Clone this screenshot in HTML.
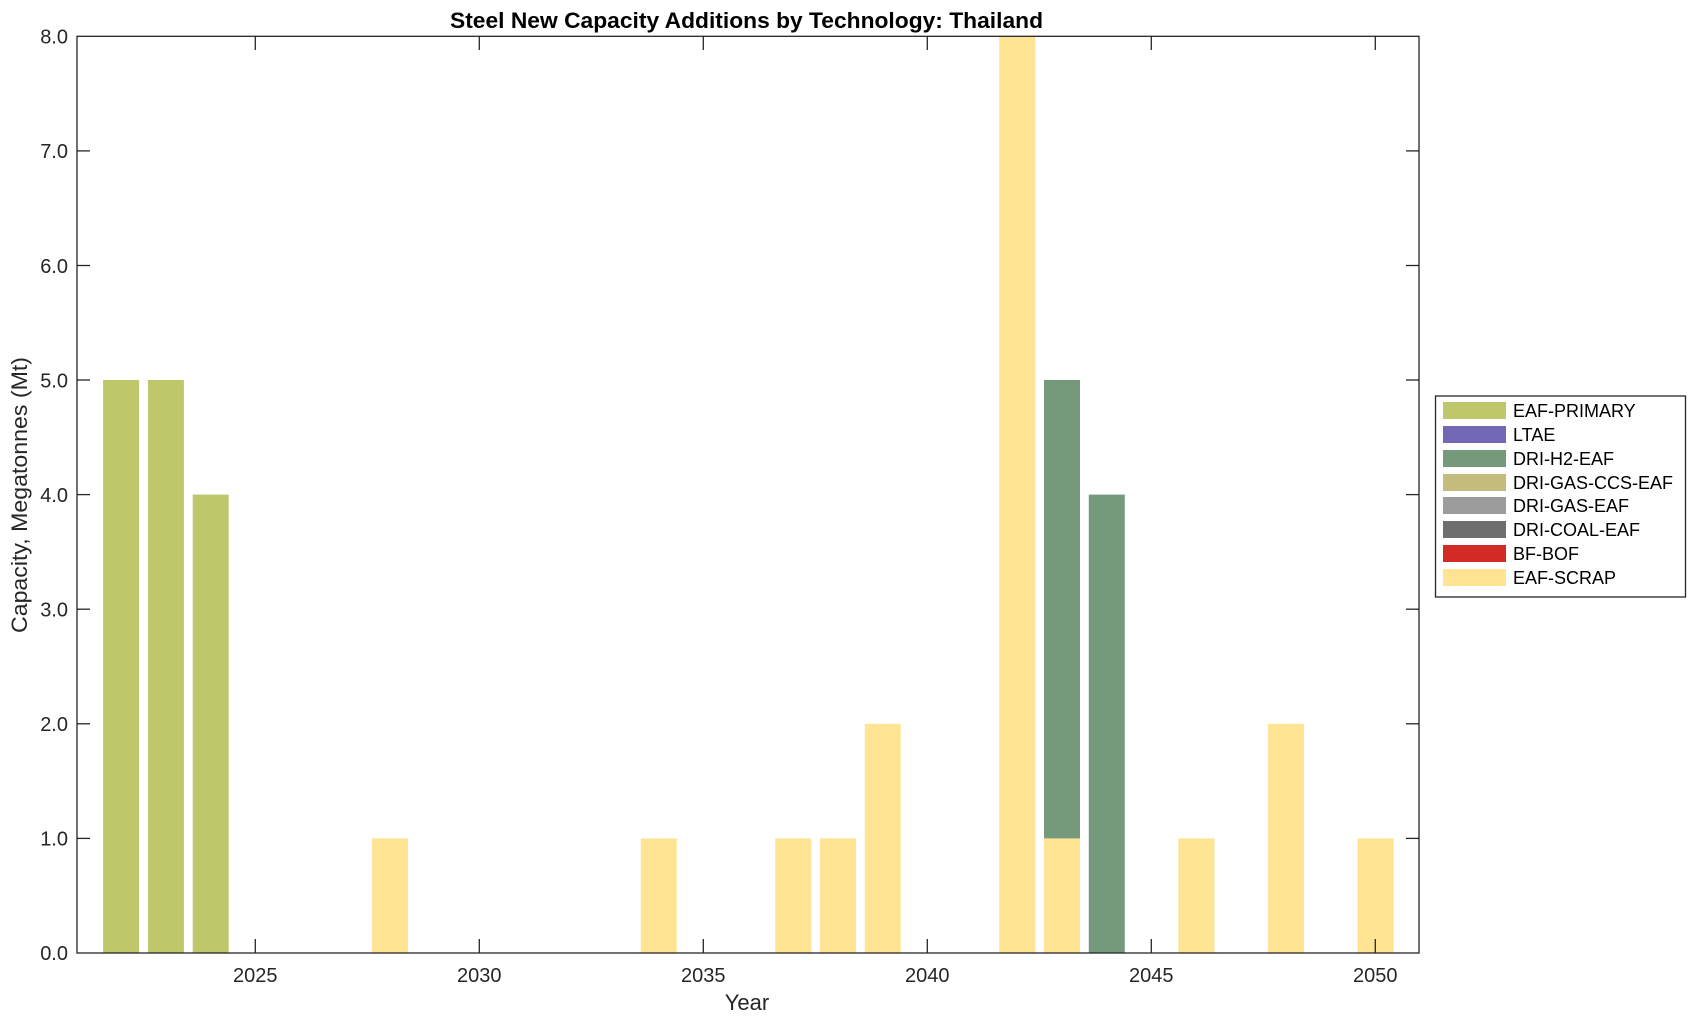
<!DOCTYPE html>
<html><head><meta charset="utf-8"><style>
html,body{margin:0;padding:0;background:#fff;}
svg text{font-family:"Liberation Sans",Arial,sans-serif;fill:#262626;}
</style></head><body>
<svg width="1696" height="1021" viewBox="0 0 1696 1021" xmlns="http://www.w3.org/2000/svg">
<rect width="1696" height="1021" fill="#fff"/>
<text x="746.5" y="28" text-anchor="middle" font-size="22" font-weight="bold" textLength="593" lengthAdjust="spacingAndGlyphs" style="fill:#000">Steel New Capacity Additions by Technology: Thailand</text>
<g id="bars">
<rect x="103.1" y="380" width="36" height="573" fill="#bec86a"/>
<rect x="147.9" y="380" width="36" height="573" fill="#bec86a"/>
<rect x="192.7" y="494.6" width="36" height="458.4" fill="#bec86a"/>
<rect x="372" y="838.4" width="36" height="114.6" fill="#ffe494"/>
<rect x="640.8" y="838.4" width="36" height="114.6" fill="#ffe494"/>
<rect x="775.2" y="838.4" width="36" height="114.6" fill="#ffe494"/>
<rect x="820" y="838.4" width="36" height="114.6" fill="#ffe494"/>
<rect x="864.8" y="723.8" width="36" height="229.2" fill="#ffe494"/>
<rect x="999.2" y="36.3" width="36" height="916.7" fill="#ffe494"/>
<rect x="1044" y="838.4" width="36" height="114.6" fill="#ffe494"/>
<rect x="1044" y="380" width="36" height="458.4" fill="#74997b"/>
<rect x="1088.8" y="494.6" width="36" height="458.4" fill="#74997b"/>
<rect x="1178.4" y="838.4" width="36" height="114.6" fill="#ffe494"/>
<rect x="1268" y="723.8" width="36" height="229.2" fill="#ffe494"/>
<rect x="1357.6" y="838.4" width="36" height="114.6" fill="#ffe494"/>
</g>
<rect x="77" y="36.3" width="1342" height="916.7" fill="none" stroke="#262626" stroke-width="1.3"/>
<g stroke="#262626" stroke-width="1.3">
<line x1="77" y1="838.4" x2="90" y2="838.4"/><line x1="1419" y1="838.4" x2="1406" y2="838.4"/>
<line x1="77" y1="723.8" x2="90" y2="723.8"/><line x1="1419" y1="723.8" x2="1406" y2="723.8"/>
<line x1="77" y1="609.2" x2="90" y2="609.2"/><line x1="1419" y1="609.2" x2="1406" y2="609.2"/>
<line x1="77" y1="494.6" x2="90" y2="494.6"/><line x1="1419" y1="494.6" x2="1406" y2="494.6"/>
<line x1="77" y1="380" x2="90" y2="380"/><line x1="1419" y1="380" x2="1406" y2="380"/>
<line x1="77" y1="265.5" x2="90" y2="265.5"/><line x1="1419" y1="265.5" x2="1406" y2="265.5"/>
<line x1="77" y1="150.9" x2="90" y2="150.9"/><line x1="1419" y1="150.9" x2="1406" y2="150.9"/>
<line x1="255.3" y1="953" x2="255.3" y2="939"/><line x1="255.3" y1="36.3" x2="255.3" y2="50"/>
<line x1="479.3" y1="953" x2="479.3" y2="939"/><line x1="479.3" y1="36.3" x2="479.3" y2="50"/>
<line x1="703.3" y1="953" x2="703.3" y2="939"/><line x1="703.3" y1="36.3" x2="703.3" y2="50"/>
<line x1="927.3" y1="953" x2="927.3" y2="939"/><line x1="927.3" y1="36.3" x2="927.3" y2="50"/>
<line x1="1151.3" y1="953" x2="1151.3" y2="939"/><line x1="1151.3" y1="36.3" x2="1151.3" y2="50"/>
<line x1="1375.3" y1="953" x2="1375.3" y2="939"/><line x1="1375.3" y1="36.3" x2="1375.3" y2="50"/>
</g>
<g font-size="20" text-anchor="end">
<text x="68" y="960">0.0</text>
<text x="68" y="845.5">1.0</text>
<text x="68" y="731">2.0</text>
<text x="68" y="616.5">3.0</text>
<text x="68" y="502">4.0</text>
<text x="68" y="387.5">5.0</text>
<text x="68" y="273">6.0</text>
<text x="68" y="158">7.0</text>
<text x="68" y="43.5">8.0</text>
</g>
<g font-size="20" text-anchor="middle">
<text x="255.3" y="982">2025</text>
<text x="479.3" y="982">2030</text>
<text x="703.3" y="982">2035</text>
<text x="927.3" y="982">2040</text>
<text x="1151.3" y="982">2045</text>
<text x="1375.3" y="982">2050</text>
</g>
<text x="747" y="1010" font-size="22" text-anchor="middle">Year</text>
<text transform="translate(27,495) rotate(-90)" font-size="22" text-anchor="middle" textLength="276" lengthAdjust="spacingAndGlyphs">Capacity, Megatonnes (Mt)</text>
<rect x="1435.5" y="396" width="250" height="201" fill="#fff" stroke="#262626" stroke-width="1.3"/>
<g font-size="18">
<rect x="1443" y="402" width="63" height="17" fill="#bec86a"/><text x="1513" y="417" style="fill:#000">EAF-PRIMARY</text>
<rect x="1443" y="426" width="63" height="17" fill="#7268b6"/><text x="1513" y="441" style="fill:#000">LTAE</text>
<rect x="1443" y="450" width="63" height="17" fill="#74997b"/><text x="1513" y="465" style="fill:#000">DRI-H2-EAF</text>
<rect x="1443" y="474" width="63" height="17" fill="#c4bc7c"/><text x="1513" y="489" style="fill:#000">DRI-GAS-CCS-EAF</text>
<rect x="1443" y="497" width="63" height="17" fill="#9c9c9c"/><text x="1513" y="512" style="fill:#000">DRI-GAS-EAF</text>
<rect x="1443" y="521" width="63" height="17" fill="#6e6e6e"/><text x="1513" y="536" style="fill:#000">DRI-COAL-EAF</text>
<rect x="1443" y="545" width="63" height="17" fill="#d22a25"/><text x="1513" y="560" style="fill:#000">BF-BOF</text>
<rect x="1443" y="569" width="63" height="17" fill="#ffe494"/><text x="1513" y="584" style="fill:#000">EAF-SCRAP</text>
</g>
</svg>
</body></html>
